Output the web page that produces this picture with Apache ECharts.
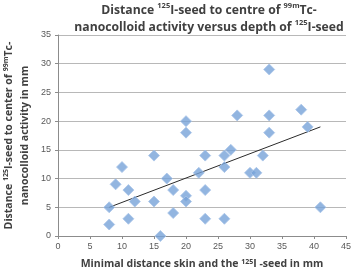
<!DOCTYPE html>
<html>
<head>
<meta charset="utf-8">
<script src="https://cdn.jsdelivr.net/npm/echarts@6/dist/echarts.min.js"></script>
<style>
  html, body { margin: 0; padding: 0; background: #fff; }
  #container { width: 358px; height: 269px; }
</style>
</head>
<body>
<div id="container"></div>
<script>
// depth of the seed (mm) vs distance to the nanocolloid centre (mm)
var depthMm = [8, 8, 9, 10, 11, 11, 12, 15, 15, 16, 17, 18, 18, 20, 20, 20, 20, 22,
               23, 23, 23, 26, 26, 26, 27, 28, 30, 31, 32, 33, 33, 33, 38, 39, 41];
var distMm  = [5, 2, 9, 12, 8, 3, 6, 14, 6, 0, 10, 8, 4, 20, 18, 7, 6, 11,
               14, 8, 3, 14, 12, 3, 15, 21, 11, 11, 14, 29, 21, 18, 22, 19, 5];
// linear trend line, ends
var trendX = [8, 41];
var trendY = [5, 19];
var xTicks = [0, 5, 10, 15, 20, 25, 30, 35, 40, 45];
var yTicks = [0, 5, 10, 15, 20, 25, 30, 35];

var points = [];
for (var i = 0; i < depthMm.length; i++) {
    points.push([depthMm[i], distMm[i]]);
}
var trend = [];
for (var j = 0; j < trendX.length; j++) {
    trend.push([trendX[j], trendY[j]]);
}

var font = 'Open Sans';
var titleRich = {
    n: { fontFamily: font, fontWeight: 'bold', fontSize: 12.2, color: '#404040', lineHeight: 17 },
    s: { fontFamily: font, fontWeight: 'bold', fontSize: 7.5, color: '#404040', verticalAlign: 'top', lineHeight: 17, padding: [0, 0, 6, 0] }
};
var axisRich = {
    n: { fontFamily: font, fontWeight: 'bold', fontSize: 10.5, color: '#404040', lineHeight: 16 },
    s: { fontFamily: font, fontWeight: 'bold', fontSize: 7, color: '#404040', lineHeight: 16, padding: [0, 0, 5, 0] }
};

var myChart = echarts.init(document.getElementById('container'));
var option = {
    animation: false,
    title: {
        text: '{n|Distance }{s|125}{n|I-seed to centre of }{s|99m}{n|Tc-}\n{n|nanocolloid activity versus depth of }{s|125}{n|I-seed}',
        left: 204,
        top: -3,
        textAlign: 'center',
        textStyle: { rich: titleRich }
    },
    grid: { left: 58, right: 12, top: 35, bottom: 33, outerBoundsMode: 'none' },
    xAxis: {
        type: 'value',
        min: 0, max: 45, interval: 5,
        name: '{n|Minimal distance skin and the }{s|125}{n|I -seed in mm}',
        nameLocation: 'middle',
        nameGap: 20,
        nameTextStyle: { rich: axisRich },
        axisLine: { lineStyle: { color: '#8c8c8c' } },
        axisTick: { show: true, length: 3, lineStyle: { color: '#8c8c8c' } },
        axisLabel: { fontSize: 9, color: '#595959', fontFamily: 'Liberation Sans', margin: 6,
                     formatter: function (v) { return xTicks.indexOf(v) >= 0 ? String(v) : ''; } },
        splitLine: { show: false }
    },
    yAxis: {
        type: 'value',
        min: 0, max: 35, interval: 5,
        name: '{n|Distance }{s|125}{n|I-seed to center of }{s|99m}{n|Tc-}\n{n|nanocolloid activity in mm}',
        nameLocation: 'middle',
        nameRotate: 90,
        nameGap: 22,
        nameTextStyle: { rich: axisRich, align: 'center' },
        axisLine: { show: true, lineStyle: { color: '#8c8c8c' } },
        axisTick: { show: true, length: 3, lineStyle: { color: '#8c8c8c' } },
        axisLabel: { fontSize: 9, color: '#595959', fontFamily: 'Liberation Sans', margin: 7,
                     formatter: function (v) { return yTicks.indexOf(v) >= 0 ? String(v) : ''; } },
        splitLine: { lineStyle: { color: '#b8b8b8' } }
    },
    series: [{
        type: 'scatter',
        data: points,
        symbol: 'diamond',
        symbolSize: 11,
        itemStyle: { color: '#77a2d8', borderColor: '#a9c4e8', borderWidth: 1 },
        z: 3
    }, {
        type: 'line',
        data: trend,
        symbol: 'none',
        lineStyle: { color: '#2a2a2a', width: 1 },
        z: 2
    }]
};
myChart.setOption(option);
</script>
</body>
</html>
